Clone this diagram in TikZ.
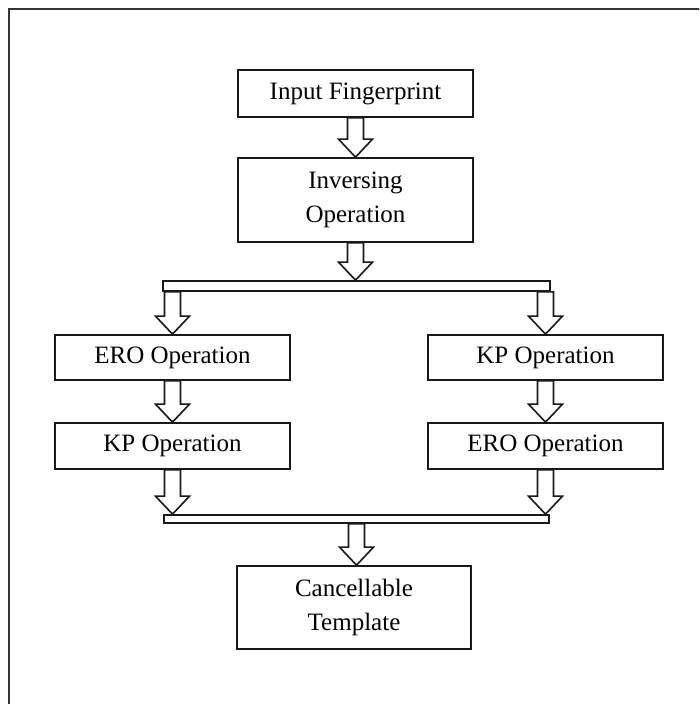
\documentclass[tikz,border=0pt]{standalone}
\usepackage{fontspec}
\setmainfont{Liberation Serif}
\usetikzlibrary{calc}
\tikzset{
  box/.style={draw=black!90, line width=1.7pt, fill=white, inner sep=0pt, align=center,
    font=\fontsize{25}{34}\selectfont},
  bar/.style={draw=black!90, line width=1.7pt, fill=white, inner sep=0pt},
  blockarr/.style={draw=black!90, line width=1.6pt, fill=white, line join=miter,
    to path={let \p1=(\tikztostart), \p2=(\tikztotarget) in
      (\x1-8pt,\y1) -- (\x1+8pt,\y1) -- (\x1+8pt,\y2+18pt) -- (\x1+17pt,\y2+18pt)
      -- (\x1,\y2) -- (\x1-17pt,\y2+18pt) -- (\x1-8pt,\y2+18pt) -- cycle}}
}
\begin{document}
\begin{tikzpicture}[x=1pt,y=1pt]
\useasboundingbox (0,0) rectangle (699,704);
\clip (0,0) rectangle (699,704);
\fill[white] (0,0) rectangle (699,704);
\draw[black!80, line width=2.5pt] (9,-20) rectangle (730,695);

\node[box, minimum width=235pt, minimum height=47pt] (inp) at (355.5,610.5) {Input Fingerprint};
\node[box, minimum width=235pt, minimum height=84pt] (inv) at (355.5,504) {Inversing\\Operation};
\node[bar, minimum width=387pt, minimum height=10pt] (bar1) at (356.5,418) {};
\node[box, minimum width=235pt, minimum height=45pt] (ero1) at (172.5,346.5) {ERO Operation};
\node[box, minimum width=235pt, minimum height=46pt] (kp1) at (172.5,258) {KP Operation};
\node[box, minimum width=235pt, minimum height=45pt] (kp2) at (545.5,346.5) {KP Operation};
\node[box, minimum width=235pt, minimum height=46pt] (ero2) at (545.5,258) {ERO Operation};
\node[bar, minimum width=385pt, minimum height=8pt] (bar2) at (356.5,185) {};
\node[box, minimum width=234pt, minimum height=83pt] (can) at (354,96.5) {Cancellable\\Template};

\coordinate (b1l) at (bar1.south -| ero1.north);
\coordinate (b1r) at (bar1.south -| kp2.north);
\coordinate (b2l) at (bar2.north -| kp1.south);
\coordinate (b2r) at (bar2.north -| ero2.south);

\draw[blockarr] (inp.south) to (inv.north);
\draw[blockarr] (inv.south) to (bar1.north);
\draw[blockarr] (b1l) to (ero1.north);
\draw[blockarr] (b1r) to (kp2.north);
\draw[blockarr] (ero1.south) to (kp1.north);
\draw[blockarr] (kp2.south) to (ero2.north);
\draw[blockarr] (kp1.south) to (b2l);
\draw[blockarr] (ero2.south) to (b2r);
\draw[blockarr] (bar2.south) to (can.north);
\end{tikzpicture}
\end{document}
